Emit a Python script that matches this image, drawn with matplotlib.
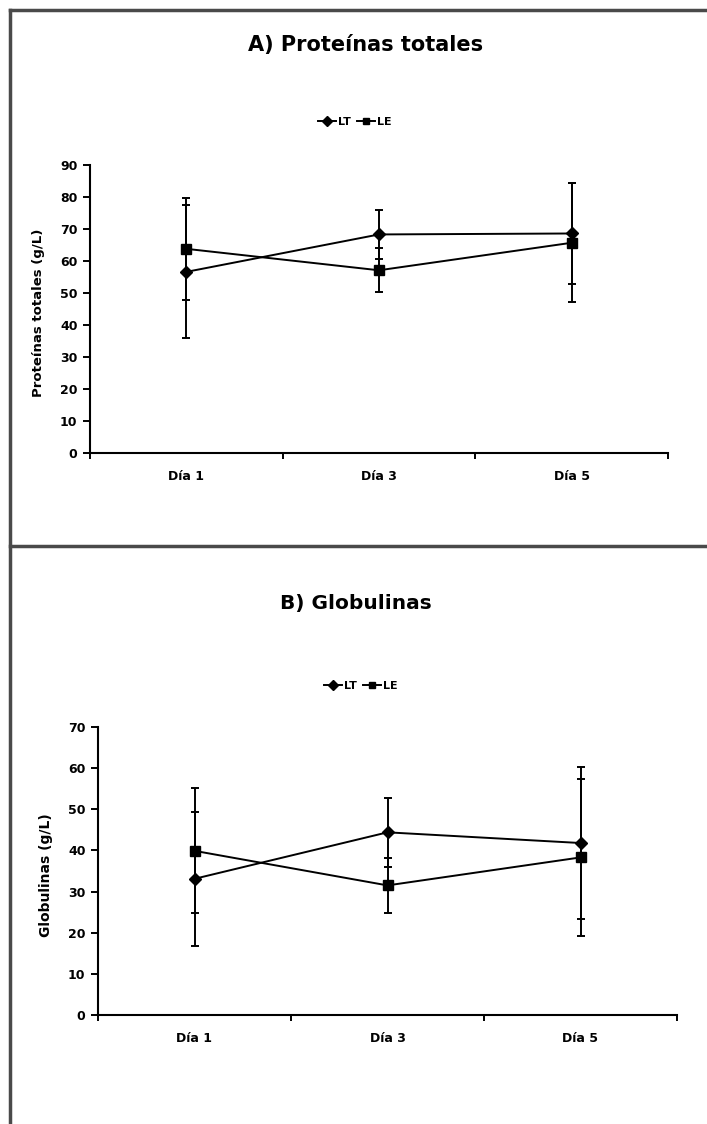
import matplotlib
matplotlib.use("Agg")
import matplotlib.pyplot as plt
from matplotlib.lines import Line2D

plt.rcParams['font.family'] = ['DejaVu Sans']

categories = ["Día 1", "Día 3", "Día 5"]

# Panel A: Proteínas totales (g/L)
a_lt = [56.6, 68.3, 68.6]
a_lt_err = [20.8, 7.6, 15.8]
a_le = [63.8, 57.1, 65.7]
a_le_err = [15.9, 6.9, 18.6]

# Panel B: Globulinas (g/L)
b_lt = [33.1, 44.4, 41.8]
b_lt_err = [16.3, 8.4, 18.4]
b_le = [39.9, 31.5, 38.3]
b_le_err = [15.2, 6.6, 19.1]

W, H = 707, 1124
fig = plt.figure(figsize=(W / 100, H / 100), dpi=100)

def px_rect(left, top, right, bottom):
    return [left / W, 1 - bottom / H, (right - left) / W, (bottom - top) / H]

# frame lines
frame_col = '#4a4a4a'
fig.add_artist(Line2D([10 / W, 10 / W], [1 - 10 / H, 0], color=frame_col, lw=2.5, transform=fig.transFigure))
fig.add_artist(Line2D([10 / W, 1], [1 - 10 / H, 1 - 10 / H], color=frame_col, lw=2.5, transform=fig.transFigure))
fig.add_artist(Line2D([10 / W, 1], [1 - 546 / H, 1 - 546 / H], color=frame_col, lw=2.5, transform=fig.transFigure))

def panel(rect, lt, lt_err, le, le_err, ymax, ylabel, ylabel_size, title, title_size,
          title_xy, legend_xy, ylabel_x):
    ax = fig.add_axes(px_rect(*rect))
    xs = [i + 0.5 for i in range(len(categories))]
    ax.errorbar(xs, lt, yerr=lt_err, color='black', lw=1.4, marker='D', ms=6,
                capsize=3, elinewidth=1.4, capthick=1.4)
    ax.errorbar(xs, le, yerr=le_err, color='black', lw=1.4, marker='s', ms=6.5,
                capsize=3, elinewidth=1.4, capthick=1.4)
    ax.set_xlim(0, len(categories))
    ax.set_ylim(0, ymax)
    ax.set_yticks(range(0, ymax + 1, 10))
    ax.set_xticks(range(0, len(categories) + 1))
    ax.set_xticklabels([])
    ax.set_xticks(xs, minor=True)
    ax.set_xticklabels(categories, minor=True, fontsize=9, fontweight='bold')
    ax.tick_params(axis='x', which='minor', length=0, pad=12)
    ax.tick_params(axis='x', which='major', length=4, width=1.4, direction='out')
    ax.tick_params(axis='y', length=5, width=1.4, direction='out', labelsize=9, pad=4)
    for lab in ax.get_yticklabels():
        lab.set_fontweight('bold')
    for s in ['top', 'right']:
        ax.spines[s].set_visible(False)
    for s in ['left', 'bottom']:
        ax.spines[s].set_linewidth(1.5)
    fig.text(ylabel_x / W, 1 - ((rect[1] + rect[3]) / 2 + 4) / H, ylabel, rotation=90,
             ha='center', va='center', fontsize=ylabel_size, fontweight='bold')
    fig.text(title_xy[0] / W, 1 - title_xy[1] / H, title, ha='center', va='center',
             fontsize=title_size, fontweight='bold')
    handles = [Line2D([], [], color='black', lw=1.4, marker='D', ms=5),
               Line2D([], [], color='black', lw=1.4, marker='s', ms=5)]
    fig.legend(handles, ['LT', 'LE'], loc='center', bbox_to_anchor=(legend_xy[0] / W, 1 - legend_xy[1] / H),
               ncol=2, frameon=False, handlelength=1.6, handletextpad=0.2, columnspacing=0.5,
               prop={'weight': 'bold', 'size': 8})
    return ax

panel((90, 165, 668, 453), a_lt, a_lt_err, a_le, a_le_err, 90,
      "Proteínas totales (g/L)", 9.5, "A) Proteínas totales", 15, (366, 45), (355, 122), 39)
panel((98, 727, 677, 1015), b_lt, b_lt_err, b_le, b_le_err, 70,
      "Globulinas (g/L)", 10, "B) Globulinas", 14.5, (356, 603), (361, 686), 46)

fig.savefig("out.png", dpi=100)
